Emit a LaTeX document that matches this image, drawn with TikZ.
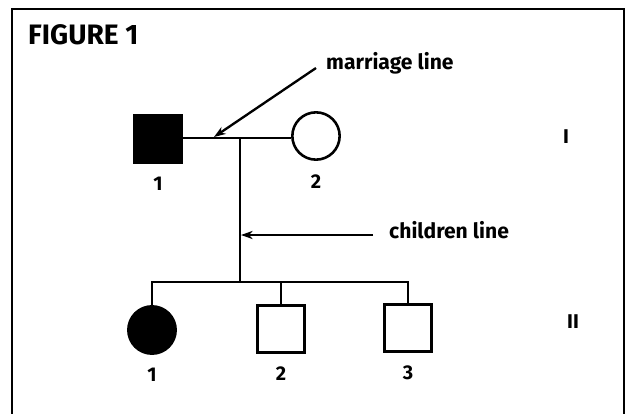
\documentclass[tikz,border=0pt]{standalone}
\usepackage{fontspec}
\setmainfont{Fira Sans}
\usetikzlibrary{arrows.meta}

\begin{document}
\begin{tikzpicture}[x=0.03cm,y=-0.03cm]
\tikzstyle{male}=[rectangle,draw=black,line width=2.2pt,minimum size=1.42cm,inner sep=0pt]
\tikzstyle{female}=[circle,draw=black,line width=2.2pt,minimum size=1.42cm,inner sep=0pt]
\tikzstyle{affected}=[fill=black]
\tikzstyle{num}=[font=\bfseries\fontsize{17}{19}\selectfont,inner sep=0pt]
\tikzstyle{txt}=[font=\bfseries\fontsize{18}{20}\selectfont,inner sep=0pt,anchor=west]
\tikzstyle{link}=[line width=2pt]
\tikzstyle{pointer}=[line width=2pt,-{Stealth[length=10pt,width=7pt]}]
\clip (0,0) rectangle (632,414);
\useasboundingbox (0,0) rectangle (632,414);
% frame, open at the bottom
\draw[line width=1.8pt] (12,430) -- (12,9) -- (624,9) -- (624,430);
\node[anchor=west,font=\bfseries\fontsize{24}{28}\selectfont,inner sep=0pt] (title) at (28,35) {FIGURE 1};
% generation I
\node[male,affected,label={[num,label distance=0.4cm]below:1}] (f1) at (158,139) {};
\node[female,label={[num,label distance=0.42cm]below:2}] (m1) at (316,136) {};
\coordinate (mid) at (240,138);
\draw[link] (f1.east |- mid) -- (mid) -- (m1.west |- mid);
% generation II
\node[female,affected,label={[num,label distance=0.38cm]below:1}] (c1) at (152,330) {};
\node[male,label={[num,label distance=0.38cm]below:2}] (c2) at (281,329) {};
\node[male,label={[num,label distance=0.38cm]below:3}] (c3) at (408,328) {};
\coordinate (sib) at (240,282);
\draw[link] (mid) -- (sib);
\draw[link] (c1.north) -- (c1.north |- sib) -- (c3.north |- sib) -- (c3.north);
\draw[link] (c2.north) -- (c2.north |- sib);
% generation numbers
\node[num] (g1) at (566,137) {I};
\node[num] (g2) at (573,322) {II};
% captions
\coordinate (mtail) at (316,68);
\coordinate (mtip) at (214,137);
\node[txt] (mtext) at (326,63) {marriage line};
\draw[pointer] (mtail) -- (mtip);
\coordinate (ctail) at (373,235);
\coordinate (ctip) at (241,235);
\node[txt] (ctext) at (389,230) {children line};
\draw[pointer] (ctail) -- (ctip);
\end{tikzpicture}
\end{document}
